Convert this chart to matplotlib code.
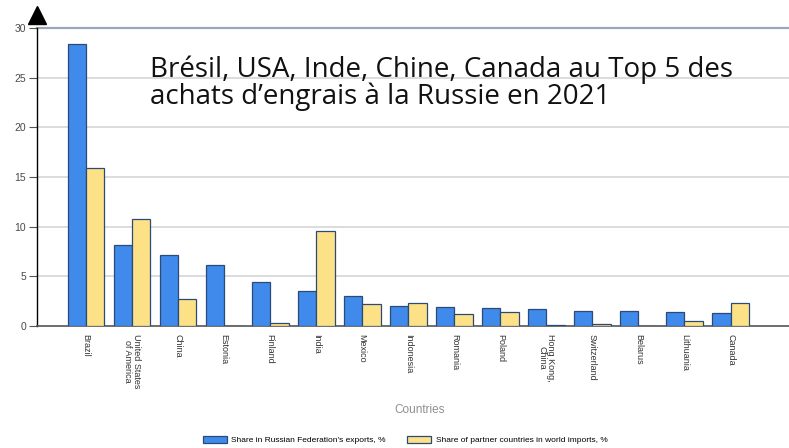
import matplotlib.pyplot as plt
import numpy as np

countries = [
    "Brazil", "United States\nof America", "China", "Estonia", "Finland",
    "India", "Mexico", "Indonesia", "Romania", "Poland",
    "Hong Kong,\nChina", "Switzerland", "Belarus", "Lithuania", "Canada",
]
share_exports = [28.4, 8.2, 7.15, 6.15, 4.45, 3.5, 3.0, 2.0, 1.9, 1.85, 1.7, 1.5, 1.5, 1.4, 1.3]
share_imports = [15.9, 10.8, 2.7, 0.0, 0.3, 9.55, 2.2, 2.3, 1.2, 1.4, 0.1, 0.2, 0.0, 0.5, 2.3]
yticks = [0, 5, 10, 15, 20, 25, 30]

title_lines = ["Brésil, USA, Inde, Chine, Canada au Top 5 des",
               "achats d\u2019engrais à la Russie en 2021"]

fig = plt.figure(figsize=(7.89, 4.48), dpi=100)
ax = fig.add_axes([37 / 789, 1 - 326 / 448, 752 / 789, 298 / 448])

x = np.arange(len(countries))
w = 0.4
ax.bar(x - w / 2, share_exports, width=w, color="#3f8aea", edgecolor="#2c4a78",
       linewidth=0.9, label="Share in Russian Federation's exports, %", zorder=3)
ax.bar(x + w / 2, share_imports, width=w, color="#fde187", edgecolor="#2c4a78",
       linewidth=0.9, label="Share of partner countries in world imports, %", zorder=3)

ax.set_xlim(-1.064, 15.27)
ax.set_ylim(0, 30)
ax.set_yticks(yticks)
ax.set_yticklabels([str(t) for t in yticks], fontsize=7.5, color="#4a4a4a",
                   family="Liberation Sans")
ax.set_xticks(x)
ax.set_xticklabels(countries, rotation=270, fontsize=6.5, color="#333333",
                   family="Liberation Sans", ha="center", va="top",
                   linespacing=0.95)
ax.tick_params(axis="x", length=0, pad=6)
ax.tick_params(axis="y", length=6, width=0.8, color="#555555", pad=2)

for t in yticks[1:-1]:
    ax.axhline(t, color="#dcdcdc", linewidth=1.4, zorder=1)
ax.axhline(30, color="#9aa7ba", linewidth=1.6, zorder=1, clip_on=False)

for s in ["top", "right"]:
    ax.spines[s].set_visible(False)
ax.spines["left"].set_color("black")
ax.spines["left"].set_linewidth(1.0)
ax.spines["bottom"].set_color("#555555")
ax.spines["bottom"].set_linewidth(1.2)

# arrow head on top of the y axis
ax.plot([0], [1.044], marker="^", markersize=13, color="black",
        transform=ax.transAxes, clip_on=False, zorder=5)

ax.text(0.150, 25.07, title_lines[0], transform=ax.get_yaxis_transform(),
        fontsize=20, family="Open Sans", color="#111111", va="baseline", ha="left")
ax.text(0.150, 22.3, title_lines[1], transform=ax.get_yaxis_transform(),
        fontsize=20, family="Open Sans", color="#111111", va="baseline", ha="left")

fig.text(420 / 789, 1 - 410 / 448, "Countries", fontsize=8.5, color="#8f8f8f",
         family="Liberation Sans", ha="center", va="center")

fig.legend(loc="center", bbox_to_anchor=(405 / 789, 1 - 440 / 448), ncol=2,
           frameon=False, prop={"family": "Liberation Sans", "size": 6},
           handlelength=2.9, handleheight=0.85, columnspacing=2.6,
           handletextpad=0.5, borderpad=0)

fig.savefig("out.png", dpi=100)
